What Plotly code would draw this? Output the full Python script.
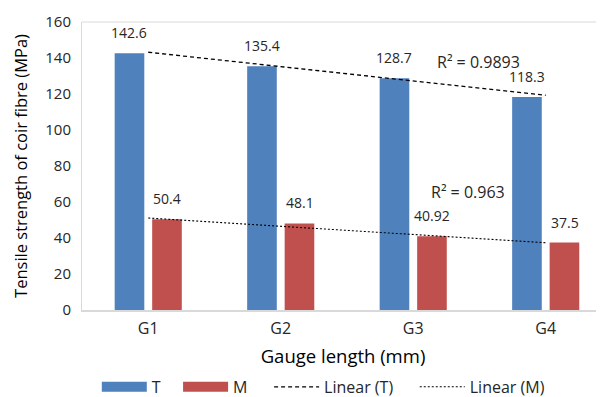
import numpy as np
import plotly.graph_objects as go

categories = ["G1", "G2", "G3", "G4"]
t_values = [142.6, 135.4, 128.7, 118.3]
m_values = [50.4, 48.1, 40.92, 37.5]
t_labels = ["142.6", "135.4", "128.7", "118.3"]
m_labels = ["50.4", "48.1", "40.92", "37.5"]
r2_labels = ["R² = 0.9893", "R² = 0.963"]
y_ticks = [0, 20, 40, 60, 80, 100, 120, 140, 160]
legend_names = ["T", "M", "Linear (T)", "Linear (M)"]

BLUE = "#4F81BD"
RED = "#C0504D"
FONT = "Open Sans"
TXT = "#262626"
NB = "\u00a0"

idx = np.arange(len(categories))
t_fit = np.polyfit(idx, t_values, 1)
m_fit = np.polyfit(idx, m_values, 1)

fig = go.Figure()
fig.add_trace(go.Bar(x=categories, y=t_values, marker=dict(color=BLUE, line=dict(width=0)),
                     name="T", showlegend=False))
fig.add_trace(go.Bar(x=categories, y=m_values, marker=dict(color=RED, line=dict(width=0)),
                     name="M", showlegend=False))
fig.add_trace(go.Scatter(x=[categories[0], categories[-1]],
                         y=[np.polyval(t_fit, 0), np.polyval(t_fit, 3)],
                         mode="lines", line=dict(color="black", width=1.3, dash="4px,3px"),
                         showlegend=False, hoverinfo="skip"))
fig.add_trace(go.Scatter(x=[categories[0], categories[-1]],
                         y=[np.polyval(m_fit, 0), np.polyval(m_fit, 3)],
                         mode="lines", line=dict(color="black", width=1.1, dash="2px,2px"),
                         showlegend=False, hoverinfo="skip"))

# legend entries
fig.add_trace(go.Scatter(x=[None], y=[None], mode="lines", line=dict(color=BLUE, width=10),
                         name=legend_names[0] + NB * 3))
fig.add_trace(go.Scatter(x=[None], y=[None], mode="lines", line=dict(color=RED, width=10),
                         name=legend_names[1] + NB * 4))
fig.add_trace(go.Scatter(x=[None], y=[None], mode="lines",
                         line=dict(color="black", width=1.3, dash="4px,3px"),
                         name=legend_names[2] + NB * 4))
fig.add_trace(go.Scatter(x=[None], y=[None], mode="lines",
                         line=dict(color="black", width=1.1, dash="2px,2px"),
                         name=legend_names[3]))

annotations = []
for c, v, lab in zip(categories, t_values, t_labels):
    annotations.append(dict(x=c, y=v, text=lab, showarrow=False, xshift=-19, yshift=9,
                            yanchor="bottom", font=dict(size=14, color=TXT, family=FONT)))
for c, v, lab in zip(categories, m_values, m_labels):
    annotations.append(dict(x=c, y=v, text=lab, showarrow=False, xshift=19, yshift=9,
                            yanchor="bottom", font=dict(size=14, color=TXT, family=FONT)))
annotations.append(dict(x=2.49, y=137.8, text=r2_labels[0], showarrow=False,
                        font=dict(size=16, color=TXT, family=FONT)))
annotations.append(dict(x=2.41, y=65.6, text=r2_labels[1], showarrow=False,
                        font=dict(size=16, color=TXT, family=FONT)))

# page body has an 8px margin: figure is drawn 8px in from the top-left
fig.update_layout(
    width=596, height=389,
    margin=dict(l=74, r=0, t=14, b=87, autoexpand=False),
    paper_bgcolor="white", plot_bgcolor="white",
    barmode="group", bargap=0.434, bargroupgap=0.21,
    font=dict(family=FONT, color=TXT),
    annotations=annotations,
    legend=dict(orientation="h", xref="container", yref="container",
                x=0.149, xanchor="left", y=0.026, yanchor="middle",
                font=dict(size=16, color=TXT, family=FONT), itemwidth=45,
                traceorder="normal"),
    xaxis=dict(range=[-0.5, 3.44], showgrid=False, showline=True, linecolor="#D9D9D9",
               linewidth=1.5, mirror=False, ticks="", automargin=False,
               tickfont=dict(size=16, color=TXT), ticklabelstandoff=3,
               title=dict(text="Gauge length (mm)", font=dict(size=18.5, color="black"), standoff=12)),
    yaxis=dict(range=[0, 160], tickvals=y_ticks, showgrid=False, zeroline=False,
               showline=True, linecolor="#D9D9D9", linewidth=1, mirror=True, ticks="",
               automargin=False,
               tickfont=dict(size=15, color=TXT), ticklabelstandoff=7,
               title=dict(text="Tensile strength of coir fibre (MPa)",
                          font=dict(size=16.5, color="black"), standoff=13)),
)
fig.add_shape(type="line", xref="paper", yref="paper", x0=0, x1=1, y0=1, y1=1,
              line=dict(color="#D9D9D9", width=1))

fig.write_html("out.html")
